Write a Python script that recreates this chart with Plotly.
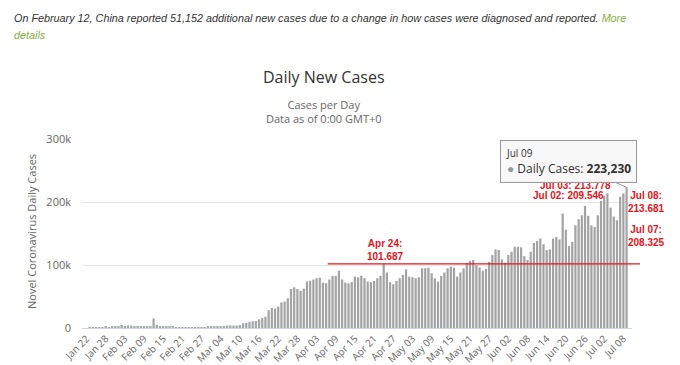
import plotly.graph_objects as go
import pandas as pd

# ---------------- data ----------------
dates = pd.date_range("2020-01-22", "2020-07-09", freq="D")
categories = [d.strftime("%b %d") for d in dates]

jan_vals = [0, 100, 287, 493, 684, 809, 2651, 588, 2068, 1693]
feb_vals = [2111, 4749, 3094, 4011, 3743, 3159, 3442, 2657, 2984, 2473, 2022, 15141, 5090,
            2626, 2068, 2046, 1882, 1752, 502, 558, 622, 1021, 442, 591, 861, 919, 1171, 1344, 1791]
mar_vals = [2009, 1846, 2406, 2307, 2794, 3858, 4155, 3924, 3934, 4515, 7418, 8009, 9802, 10791,
            11065, 13688, 15829, 17896, 28233, 31736, 30860, 33900, 40591, 41812, 47000, 61958,
            64632, 61957, 59076, 62400, 74000]
apr_vals = [75000, 77000, 79000, 80000, 72000, 71000, 77000, 82600, 83000, 91000, 77000, 72000,
            71000, 72700, 81500, 80500, 83000, 79000, 73600, 72700, 74700, 79000, 83000, 101687,
            88000, 72700, 69500, 74700, 79000, 84000]
may_vals = [93000, 81500, 80500, 79000, 80500, 94800, 94800, 95700, 86900, 79000, 73600, 82600,
            88000, 94800, 97300, 95700, 81500, 88000, 94800, 102700, 106800, 107900, 100000, 96000,
            91000, 93700, 105000, 115800, 124800, 123700, 109000]
jun_vals = [103600, 115800, 121000, 129000, 129000, 128000, 114000, 107900, 121000, 135000,
            138400, 142000, 133000, 123700, 124800, 142000, 144700, 140600, 181700, 156000,
            130000, 136800, 163000, 172700, 179000, 193700, 178000, 163000, 160500, 179000]
jul_vals = [201600, 209546, 213778, 191000, 177000, 171000, 208325, 213681, 223230]

daily_cases = jan_vals + feb_vals + mar_vals + apr_vals + may_vals + jun_vals + jul_vals

tick_labels = categories[::6]
y_tick_vals = [0, 100000, 200000, 300000]
y_tick_text = ["0", "100k", "200k", "300k"]

highlight_dates = ["Apr 24", "Jul 02", "Jul 03", "Jul 07", "Jul 08"]
reference_date = "Apr 24"
line_start_date = "Apr 06"
tooltip_date = "Jul 09"

# ---------------- layout helpers ----------------
W, H = 680, 365
ML, MR, MT, MB = 82, 48, 139, 37
PW, PH = W - ML - MR, H - MT - MB
X_RANGE = [-1.4, len(categories) + 1.7 - 1]


def px_x(px):
    return (px - ML) / PW


def px_y(py):
    return (H - MB - py) / PH


def idx_to_paper(i):
    return (i - X_RANGE[0]) / (X_RANGE[1] - X_RANGE[0])


val = dict(zip(categories, daily_cases))


def fmt_eu(v):
    return f"{v:,}".replace(",", ".")


FONT = "Open Sans, Liberation Sans, sans-serif"
RED = "#e5141c"

fig = go.Figure()
fig.add_trace(go.Bar(
    x=categories, y=daily_cases,
    marker=dict(color="#a3a3a3", line=dict(width=0)),
    hoverinfo="skip",
))

annotations = []
# Note at top
annotations.append(dict(
    xref="paper", yref="paper", x=px_x(12), y=px_y(18), xanchor="left", yanchor="middle",
    text="<i>On February 12, China reported 51,152 additional new cases due to a change in how cases "
         "were diagnosed and reported. </i><i><span style='color:#86ad3c'>More</span></i>",
    showarrow=False, font=dict(family="Liberation Sans, Arial", size=10.8, color="#333333")))
annotations.append(dict(
    xref="paper", yref="paper", x=px_x(12), y=px_y(35), xanchor="left", yanchor="middle",
    text="<i><span style='color:#86ad3c'>details</span></i>",
    showarrow=False, font=dict(family="Liberation Sans, Arial", size=10.8, color="#333333")))
# Title & subtitle
annotations.append(dict(
    xref="paper", yref="paper", x=px_x(324), y=px_y(77), xanchor="center", yanchor="middle",
    text="Daily New Cases", showarrow=False, font=dict(family=FONT, size=16, color="#333333")))
annotations.append(dict(
    xref="paper", yref="paper", x=px_x(324), y=px_y(111), xanchor="center", yanchor="middle",
    text="Cases per Day<br>Data as of 0:00 GMT+0", showarrow=False,
    font=dict(family=FONT, size=11, color="#666666")))
# Y axis title
annotations.append(dict(
    xref="paper", yref="paper", x=px_x(31), y=px_y(232), xanchor="center", yanchor="middle",
    text="Novel Coronavirus Daily Cases", textangle=-90, showarrow=False,
    font=dict(family=FONT, size=11, color="#666666")))

# Red value labels
label_pos = {
    "Apr 24": (385, 249.5, "{d}:<br>{v}"),
    "Jul 03": (575, 185, "{d}: {v}"),
    "Jul 02": (568, 195.5, "{d}: {v}"),
    "Jul 08": (646, 202, "{d}:<br>{v}"),
    "Jul 07": (646, 236, "{d}:<br>{v}"),
}
for d in highlight_dates:
    x, y, tmpl = label_pos[d]
    annotations.append(dict(
        xref="paper", yref="paper", x=px_x(x), y=px_y(y), xanchor="center", yanchor="middle",
        text="<b>" + tmpl.format(d=d, v=fmt_eu(val[d])) + "</b>", showarrow=False,
        font=dict(family="Liberation Sans, Arial", size=10, color=RED)))

# Tooltip
annotations.append(dict(
    x=tooltip_date, y=val[tooltip_date], xref="x", yref="y",
    ax=-58, ay=-26, axref="pixel", ayref="pixel",
    text="<span style='font-size:10px'>" + tooltip_date + "</span><br>"
         "<span style='color:#999999'>●</span> Daily Cases: <b>" + f"{val[tooltip_date]:,}" + "</b>",
    align="left", showarrow=True, arrowhead=0, arrowwidth=1, arrowcolor="#999999",
    standoff=0, bgcolor="rgba(247,247,247,0.92)", bordercolor="#999999", borderwidth=1,
    borderpad=5, font=dict(family=FONT, size=12, color="#333333")))

fig.update_layout(
    width=W, height=H,
    margin=dict(l=ML, r=MR, t=MT, b=MB, pad=0, autoexpand=False),
    paper_bgcolor="white", plot_bgcolor="white",
    showlegend=False, bargap=0.3,
    font=dict(family=FONT, color="#666666"),
    annotations=annotations,
    shapes=[dict(
        type="line", xref="paper", yref="y",
        x0=idx_to_paper(categories.index(line_start_date) + 0.5), x1=px_x(640),
        y0=val[reference_date], y1=val[reference_date],
        line=dict(color=RED, width=1.2))],
    xaxis=dict(
        type="category", range=X_RANGE, tickmode="array", automargin=False,
        tickvals=tick_labels, ticktext=tick_labels, tickangle=-45,
        tickfont=dict(family=FONT, size=10, color="#666666"),
        showgrid=False, showline=True, linecolor="#ccd6eb", linewidth=1,
        ticks="", zeroline=False),
    yaxis=dict(
        range=[0, 300000], tickmode="array", tickvals=y_tick_vals, ticktext=y_tick_text,
        automargin=False,
        tickfont=dict(family=FONT, size=11, color="#666666"),
        showgrid=True, gridcolor="#e6e6e6", gridwidth=1, zeroline=False,
        ticks="", ticklabelstandoff=10, showline=False),
)

fig.write_html("out.html", config={"displayModeBar": False},
               post_script="document.body.style.margin='0';document.body.style.overflow='hidden';")
